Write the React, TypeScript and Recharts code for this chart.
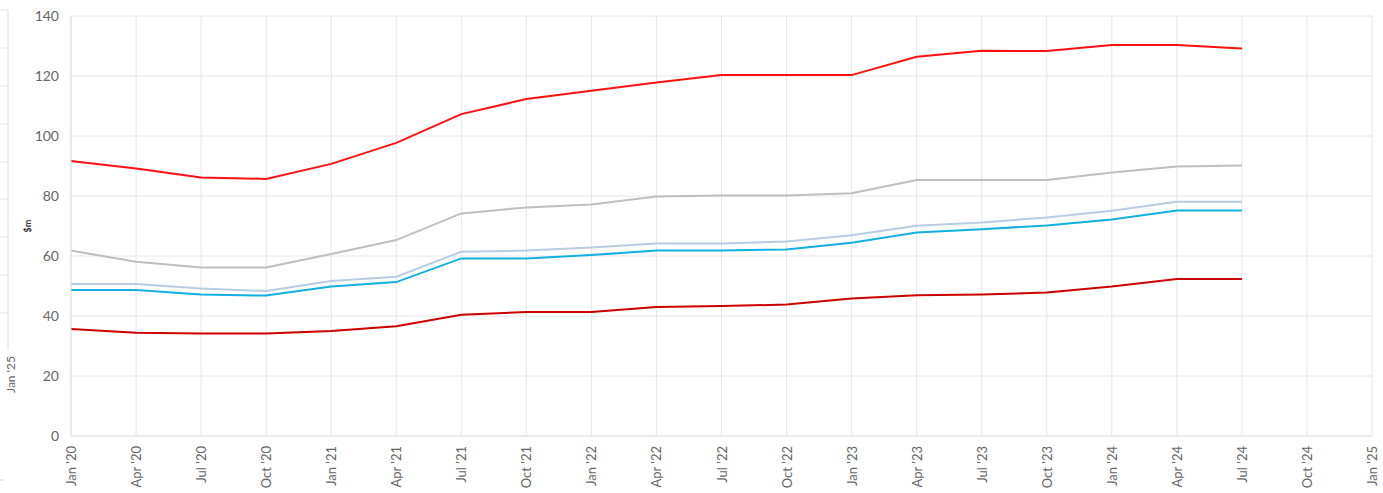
import React from "react";
import { LineChart, Line, XAxis, YAxis, CartesianGrid } from "recharts";

const quarters = [
  "Jan '20", "Apr '20", "Jul '20", "Oct '20",
  "Jan '21", "Apr '21", "Jul '21", "Oct '21",
  "Jan '22", "Apr '22", "Jul '22", "Oct '22",
  "Jan '23", "Apr '23", "Jul '23", "Oct '23",
  "Jan '24", "Apr '24", "Jul '24", "Oct '24", "Jan '25",
];

const yTicks = [0, 20, 40, 60, 80, 100, 120, 140];

const seriesRed = [91.7, 89.2, 86.2, 85.7, 90.7, 97.7, 107.3, 112.3, 115.1, 117.8, 120.3, 120.3, 120.3, 126.4, 128.4, 128.3, 130.3, 130.3, 129.2];
const seriesGray = [61.8, 58.1, 56.2, 56.2, 60.7, 65.3, 74.2, 76.2, 77.2, 79.8, 80.2, 80.2, 80.9, 85.3, 85.3, 85.3, 87.8, 89.8, 90.2];
const seriesLightBlue = [50.7, 50.7, 49.2, 48.3, 51.7, 53.1, 61.4, 61.8, 62.8, 64.2, 64.2, 64.8, 66.9, 70.1, 71.2, 72.8, 75.1, 78.1, 78.1];
const seriesCyan = [48.7, 48.7, 47.2, 46.8, 49.8, 51.3, 59.2, 59.2, 60.3, 61.8, 61.8, 62.2, 64.4, 67.8, 68.9, 70.2, 72.2, 75.2, 75.2];
const seriesDarkRed = [35.7, 34.4, 34.2, 34.2, 35.0, 36.6, 40.4, 41.3, 41.3, 43.0, 43.3, 43.8, 45.8, 46.9, 47.2, 47.8, 49.8, 52.3, 52.3];

const data = quarters.map((q, i) => ({
  q,
  red: seriesRed[i],
  gray: seriesGray[i],
  lightBlue: seriesLightBlue[i],
  cyan: seriesCyan[i],
  darkRed: seriesDarkRed[i],
}));

const FONT = "Lato, 'Open Sans', sans-serif";
const ghostLines = [10, 48, 86, 124, 162, 199, 237, 275, 313];

const XTick = (props: any) => {
  const { x, y, payload } = props;
  return (
    <text
      x={x}
      y={y}
      transform={`rotate(-90, ${x}, ${y})`}
      textAnchor="end"
      dominantBaseline="central"
      fill="#666"
      fontSize={13}
      fontFamily={FONT}
    >
      {payload.value}
    </text>
  );
};

export default function App() {
  return (
    <div style={{ position: "absolute", left: 0, top: 0, width: 1383, height: 493, background: "#fff" }}>
      <svg style={{ position: "absolute", left: 0, top: 0 }} width={30} height={493}>
        {ghostLines.map((y) => (
          <line key={y} x1={0} x2={8} y1={y} y2={y} stroke="#e6e6e6" strokeWidth={1} />
        ))}
        <line x1={8} x2={8} y1={10} y2={350} stroke="#e0e0e0" strokeWidth={1} />
        <line x1={0} x2={3} y1={480} y2={480} stroke="#ccc" strokeWidth={1} />
        <text
          x={10}
          y={356}
          transform="rotate(-90, 10, 356)"
          textAnchor="end"
          dominantBaseline="central"
          fill="#666"
          fontSize={12}
          fontFamily={FONT}
        >
          Jan '25
        </text>
      </svg>
      <div style={{ position: "absolute", left: 0, top: 0 }}>
        <LineChart
          width={1383}
          height={493}
          data={data}
          margin={{ top: 16, right: 11, left: 0, bottom: 0 }}
        >
          <CartesianGrid stroke="#e6e6e6" strokeWidth={1} />
          <XAxis
            dataKey="q"
            interval={0}
            height={57}
            tick={<XTick />}
            tickLine={false}
            axisLine={{ stroke: "#e0e0e0" }}
            tickMargin={4}
            padding={{ left: 0, right: 0 }}
          />
          <YAxis
            width={71}
            domain={[0, 140]}
            ticks={yTicks}
            tickLine={false}
            axisLine={{ stroke: "#e0e0e0" }}
            tick={{ fill: "#666", fontSize: 14, fontFamily: FONT }}
            tickMargin={6}
            label={{
              content: (p: any) => {
                const vb = p.viewBox || { x: 0, y: 16, width: 71, height: 420 };
                const cx = vb.x + 27;
                const cy = vb.y + vb.height / 2;
                return (
                  <text
                    x={cx}
                    y={cy}
                    transform={`rotate(-90, ${cx}, ${cy})`}
                    textAnchor="middle"
                    dominantBaseline="central"
                    fill="#333"
                    fontSize={9}
                    fontWeight="bold"
                    fontFamily={FONT}
                  >
                    $m
                  </text>
                );
              },
            }}
          />
          <Line dataKey="darkRed" stroke="#cc0000" strokeWidth={2} dot={false} isAnimationActive={false} />
          <Line dataKey="gray" stroke="#bfbfbf" strokeWidth={2} dot={false} isAnimationActive={false} />
          <Line dataKey="lightBlue" stroke="#b8cce4" strokeWidth={2} dot={false} isAnimationActive={false} />
          <Line dataKey="cyan" stroke="#12b0e0" strokeWidth={2} dot={false} isAnimationActive={false} />
          <Line dataKey="red" stroke="#ff1010" strokeWidth={2} dot={false} isAnimationActive={false} />
        </LineChart>
      </div>
    </div>
  );
}
